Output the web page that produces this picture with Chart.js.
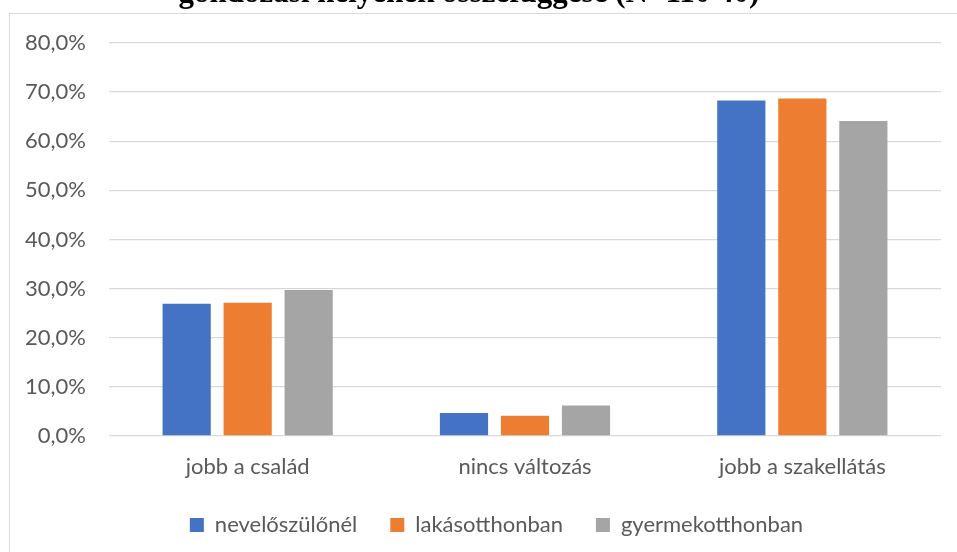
<!DOCTYPE html>
<html>
<head>
<meta charset="utf-8">
<script src="https://cdn.jsdelivr.net/npm/chart.js@4.4.1/dist/chart.umd.min.js"></script>
<style>
  html, body { margin: 0; padding: 0; background: #ffffff; }
  #wrap { width: 957px; height: 552px; position: relative; }
</style>
</head>
<body>
<div id="wrap"><canvas id="c" width="957" height="552"></canvas></div>
<script>
const titleText = "gondozási helyének összefüggése (N=110 40)";
const categories = ["jobb a család", "nincs változás", "jobb a szakellátás"];
const seriesNames = ["nevelőszülőnél", "lakásotthonban", "gyermekotthonban"];
const nevelo = [26.9, 4.7, 68.3];
const lakas = [27.1, 4.1, 68.7];
const gyermek = [29.7, 6.2, 64.1];
const yTicks = [0, 10, 20, 30, 40, 50, 60, 70, 80];
const colors = ["#4472C4", "#ED7D31", "#A5A5A5"];

const FONT = "Lato";
const FSIZE = 22;

const framePlugin = {
  id: 'frame',
  beforeLayout(chart) {
    const lg = chart.legend;
    if (lg && !lg._patched) {
      const of = lg.fit.bind(lg);
      lg.fit = function () { of(); this.height = 50; };
      lg._patched = true;
    }
  },
  afterLayout(chart) {
    const lg = chart.legend;
    if (lg) {
      const dy = -21, dx = 26;
      lg.top += dy;
      lg.left += dx; lg.right += dx;
    }
  },
  beforeDraw(chart) {
    const ctx = chart.ctx;
    ctx.save();
    ctx.fillStyle = '#ffffff';
    ctx.fillRect(0, 0, chart.width, chart.height);
    ctx.strokeStyle = '#d9d9d9';
    ctx.lineWidth = 1;
    ctx.strokeRect(9.5, 13.5, 960, 560);
    ctx.restore();
  },
  afterDraw(chart) {
    const ctx = chart.ctx;
    ctx.save();
    ctx.font = 'bold 31px "Liberation Serif"';
    ctx.fillStyle = '#000000';
    ctx.textAlign = 'center';
    ctx.textBaseline = 'alphabetic';
    ctx.fillText(titleText, 469, 2);
    ctx.restore();
  }
};

new Chart(document.getElementById('c'), {
  type: 'bar',
  data: {
    labels: categories,
    datasets: [
      { label: seriesNames[0], data: nevelo, backgroundColor: colors[0] },
      { label: seriesNames[1], data: lakas, backgroundColor: colors[1] },
      { label: seriesNames[2], data: gyermek, backgroundColor: colors[2] }
    ]
  },
  options: {
    responsive: false,
    animation: false,
    devicePixelRatio: 1,
    categoryPercentage: 0.66,
    barPercentage: 0.79,
    layout: { padding: { top: 43, right: 16, bottom: 0, left: 0 } },
    plugins: {
      title: { display: false },
      tooltip: { enabled: false },
      legend: {
        position: 'bottom',
        labels: {
          color: '#595959',
          font: { family: FONT, size: FSIZE },
          boxWidth: 14,
          boxHeight: 14,
          padding: 33
        }
      }
    },
    scales: {
      x: {
        grid: { display: false, drawTicks: false },
        border: { display: false },
        ticks: {
          color: '#595959',
          font: { family: FONT, size: FSIZE },
          padding: 18,
          maxRotation: 0
        },
        afterFit(s) { s.height = 66; }
      },
      y: {
        min: 0,
        max: 80,
        afterBuildTicks(s) { s.ticks = yTicks.map(v => ({ value: v })); },
        grid: { color: '#d9d9d9', lineWidth: 1.3, drawTicks: false },
        border: { display: false },
        ticks: {
          color: '#595959',
          font: { family: FONT, size: FSIZE },
          padding: 23,
          callback: v => v.toFixed(1).replace('.', ',') + '%'
        },
        afterFit(s) { s.width = 109; }
      }
    }
  },
  plugins: [framePlugin]
});
</script>
</body>
</html>
